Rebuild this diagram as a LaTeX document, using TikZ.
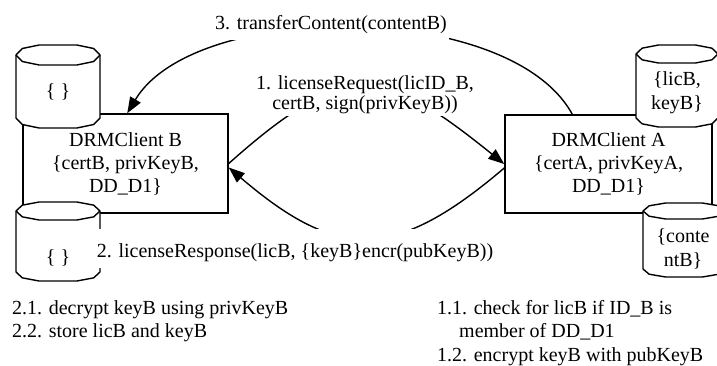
\documentclass[tikz,border=0pt]{standalone}
\usepackage{fontspec}
\setmainfont{Liberation Serif}
\usetikzlibrary{arrows.meta,calc}
\tikzset{
  every node/.style={font=\fontsize{20pt}{24pt}\selectfont},
  box/.style={draw, line width=1.5pt, align=center, font=\fontsize{20pt}{23pt}\selectfont},
  cylline/.style={line width=1.4pt, line join=round},
  conn/.style={line width=1.4pt, -{Triangle[length=16pt,width=12pt]}},
  lbl/.style={fill=white, inner xsep=2pt},
  txt/.style={align=center, inner sep=0pt},
  note/.style={anchor=north west, align=left, inner sep=0pt, font=\fontsize{20pt}{23.5pt}\selectfont},
}
\newcommand\mycyl[5]{%
  \filldraw[fill=white, cylline] (#1-#4,#2) -- (#1-#4,#3) -- (#1-0.85*#4,#3+0.65*#5) -- (#1-0.45*#4,#3+#5) -- (#1+0.45*#4,#3+#5) -- (#1+0.85*#4,#3+0.65*#5) -- (#1+#4,#3) -- (#1+#4,#2) -- (#1+0.85*#4,#2-0.65*#5) -- (#1+0.45*#4,#2-#5) -- (#1-0.45*#4,#2-#5) -- (#1-0.85*#4,#2-0.65*#5) -- cycle;
  \draw[cylline] (#1-#4,#2) -- (#1-0.85*#4,#2+0.65*#5) -- (#1-0.45*#4,#2+#5) -- (#1+0.45*#4,#2+#5) -- (#1+0.85*#4,#2+0.65*#5) -- (#1+#4,#2);
}
\begin{document}
\begin{tikzpicture}[x=1pt,y=-1pt]
\useasboundingbox (0,0) rectangle (717,365);
% boxes
\node[box, minimum width=205pt, minimum height=99pt] (B) at (125.5,163.5) {DRMClient B\\\{certB, privKeyB,\\DD\_D1\}};
\node[box, minimum width=207pt, minimum height=98pt] (A) at (608.5,164) {DRMClient A\\\{certA, privKeyA,\\DD\_D1\}};
% cylinders
\mycyl{58}{55}{118}{42}{10}
\mycyl{58}{211}{272}{42}{9}
\mycyl{677}{54}{118}{41}{9}
\mycyl{684}{211}{269}{41}{8}
\node[txt] (cBt) at (58,92) {\{ \}};
\node[txt] (cBb) at (58,258) {\{ \}};
\node[txt] (cAt) at (677,92.5) {\{licB,\\keyB\}};
\node[txt] (cAb) at (683,248.5) {\{conte\\ntB\}};
% connectors
\draw[conn] ([xshift=68pt]A.north west) .. controls (510,0) and (195,0) .. ([xshift=105pt]B.north west);
\draw[conn] (B.east) .. controls (348,57) and (385,68) .. (A.west);
\draw[conn] ([yshift=-4pt]A.west) .. controls (395,261) and (338,261) .. ([yshift=-4pt]B.east);
% labels
\node[lbl, anchor=base, inner ysep=6pt, text depth=5pt] (t3) at (331,29) {3. transferContent(contentB)};
\node[lbl, anchor=south, align=center, inner ysep=2pt, font=\fontsize{20pt}{20pt}\selectfont] (t1) at (365,116.5) {1. licenseRequest(licID\_B,\\certB, sign(privKeyB))};
\node[lbl, anchor=north, inner ysep=6pt, text height=22pt] (t2) at (295,229) {2. licenseResponse(licB, \{keyB\}encr(pubKeyB))};
% notes
\node[note] (n2) at (12,300) {2.1. decrypt keyB using privKeyB\\2.2. store licB and keyB};
\node[note] (n1) at (437,300) {1.1. check for licB if ID\_B is\\\hspace*{22pt}member of DD\_D1\\1.2. encrypt keyB with pubKeyB};
\end{tikzpicture}
\end{document}
